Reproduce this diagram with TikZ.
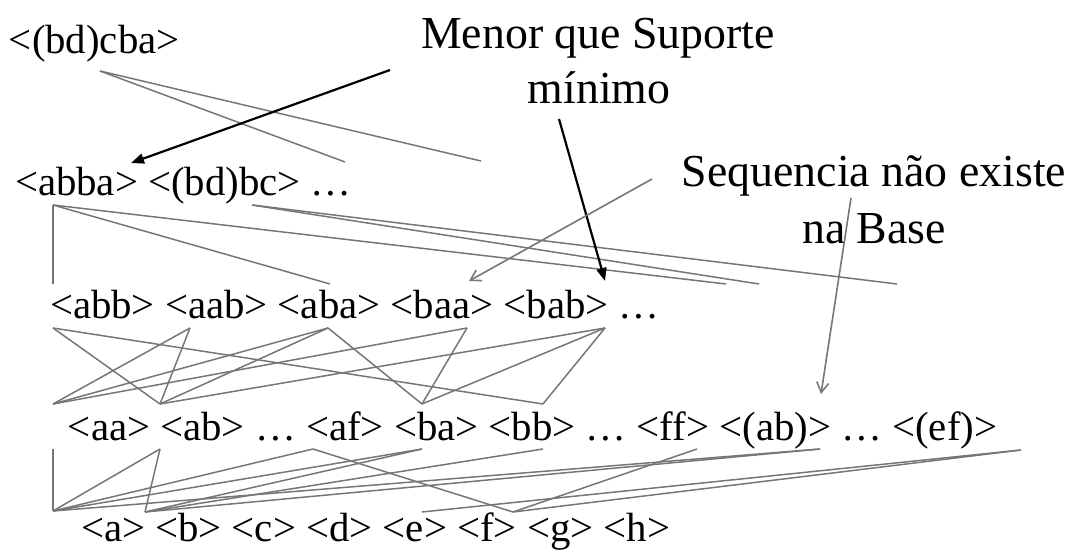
\documentclass[tikz,border=0pt]{standalone}
\usepackage{fontspec}
\setmainfont{Liberation Serif}
\usetikzlibrary{arrows.meta}
\definecolor{edgegray}{RGB}{118,118,118}
\begin{document}
\begin{tikzpicture}[x=0.5pt,y=-0.5pt,
  seq/.style={inner sep=0pt, outer sep=0pt, anchor=base west,
              font=\fontsize{20.4}{24}\selectfont},
  note/.style={inner sep=0pt, outer sep=0pt, anchor=base,
               font=\fontsize{22.9}{27}\selectfont},
  edge/.style={draw=edgegray, line width=0.75pt},
  callout/.style={draw=black, line width=1.1pt,
                  -{Triangle[length=6.5pt,width=5pt]}},
  pointer/.style={draw=edgegray, line width=0.8pt,
                  -{Straight Barb[length=5pt,width=6pt]}}]
\useasboundingbox (0,0) rectangle (1071,550);

% ---- sequences, one row per length ----
\node[seq] (bdcba) at (9,54) {<(bd)cba>};

\node[seq] (abba) at (15,196) {<abba>};
\node[seq] (bdbc) at ([xshift=5.1pt]abba.base east) {<(bd)bc>};
\node[seq] (dotsB) at ([xshift=5.1pt]bdbc.base east) {…};

\node[seq] (abb) at (50,319) {<abb>};
\node[seq] (aab) at ([xshift=5.1pt]abb.base east) {<aab>};
\node[seq] (aba) at ([xshift=5.1pt]aab.base east) {<aba>};
\node[seq] (baa) at ([xshift=5.1pt]aba.base east) {<baa>};
\node[seq] (bab) at ([xshift=5.1pt]baa.base east) {<bab>};
\node[seq] (dotsC) at ([xshift=5.1pt]bab.base east) {…};

\node[seq] (aa) at (68,441) {<aa>};
\node[seq] (ab) at ([xshift=5.1pt]aa.base east) {<ab>};
\node[seq] (dotsD1) at ([xshift=5.1pt]ab.base east) {…};
\node[seq] (af) at ([xshift=5.1pt]dotsD1.base east) {<af>};
\node[seq] (ba) at ([xshift=5.1pt]af.base east) {<ba>};
\node[seq] (bb) at ([xshift=5.1pt]ba.base east) {<bb>};
\node[seq] (dotsD2) at ([xshift=5.1pt]bb.base east) {…};
\node[seq] (ff) at ([xshift=5.1pt]dotsD2.base east) {<ff>};
\node[seq] (pab) at ([xshift=5.1pt]ff.base east) {<(ab)>};
\node[seq] (dotsD3) at ([xshift=5.1pt]pab.base east) {…};
\node[seq] (pef) at ([xshift=5.1pt]dotsD3.base east) {<(ef)>};

\node[seq] (a) at (81,541) {<a>};
\node[seq] (b) at ([xshift=5.1pt]a.base east) {<b>};
\node[seq] (c) at ([xshift=5.1pt]b.base east) {<c>};
\node[seq] (d) at ([xshift=5.1pt]c.base east) {<d>};
\node[seq] (e) at ([xshift=5.1pt]d.base east) {<e>};
\node[seq] (f) at ([xshift=5.1pt]e.base east) {<f>};
\node[seq] (g) at ([xshift=5.1pt]f.base east) {<g>};
\node[seq] (h) at ([xshift=5.1pt]g.base east) {<h>};

% ---- annotations ----
\node[note] (menorA) at (598,49) {Menor que Suporte};
\node[note] (menorB) at (599,104) {mínimo};
\node[note] (seqA) at (874,187) {Sequencia não existe};
\node[note] (seqB) at (874,244) {na Base};

% ---- line ends between the rows ----
\coordinate (bdcba-d) at (100,71);
\coordinate (r2-x1) at (345,162);
\coordinate (r2-x2) at (481,161);

\coordinate (abba-d) at (53,205);
\coordinate (bdbc-d) at (252,205);
\coordinate (abb-u) at (53,284);
\coordinate (aba-u) at (330,284);
\coordinate (r3-x1) at (726,284);
\coordinate (r3-x2) at (759,284);
\coordinate (r3-x3) at (897,284);

\coordinate (abb-d) at (53,328);
\coordinate (aab-d) at (190,328);
\coordinate (aba-d) at (328,328);
\coordinate (baa-d) at (467,328);
\coordinate (bab-d) at (605,328);
\coordinate (aa-u) at (53,404);
\coordinate (ab-u) at (160,404);
\coordinate (ba-u) at (422,404);
\coordinate (bb-u) at (543,404);

\coordinate (aa-d) at (53,449);
\coordinate (ab-d) at (160,449);
\coordinate (af-d) at (313,449);
\coordinate (ba-d) at (422,449);
\coordinate (bb-d) at (543,449);
\coordinate (ff-d) at (697,449);
\coordinate (pab-d) at (820,449);
\coordinate (pef-d) at (1021,450);
\coordinate (a-u) at (53,511);
\coordinate (b-u) at (145,512);
\coordinate (e-u) at (422,512);
\coordinate (f-u) at (513,512);

% ---- subsequence links ----
\draw[edge] (bdcba-d) -- (r2-x1);
\draw[edge] (bdcba-d) -- (r2-x2);

\draw[edge] (abba-d) -- (abb-u);
\draw[edge] (abba-d) -- (aba-u);
\draw[edge] (abba-d) -- (r3-x1);
\draw[edge] (bdbc-d) -- (r3-x2);
\draw[edge] (bdbc-d) -- (r3-x3);

\draw[edge] (abb-d) -- (ab-u);
\draw[edge] (abb-d) -- (bb-u);
\draw[edge] (aab-d) -- (aa-u);
\draw[edge] (aab-d) -- (ab-u);
\draw[edge] (aba-d) -- (aa-u);
\draw[edge] (aba-d) -- (ab-u);
\draw[edge] (aba-d) -- (ba-u);
\draw[edge] (baa-d) -- (aa-u);
\draw[edge] (baa-d) -- (ba-u);
\draw[edge] (bab-d) -- (ab-u);
\draw[edge] (bab-d) -- (ba-u);
\draw[edge] (bab-d) -- (bb-u);

\draw[edge] (aa-d) -- (a-u);
\draw[edge] (ab-d) -- (a-u);
\draw[edge] (ab-d) -- (b-u);
\draw[edge] (af-d) -- (a-u);
\draw[edge] (af-d) -- (f-u);
\draw[edge] (ba-d) -- (a-u);
\draw[edge] (ba-d) -- (b-u);
\draw[edge] (bb-d) -- (b-u);
\draw[edge] (ff-d) -- (f-u);
\draw[edge] (pab-d) -- (a-u);
\draw[edge] (pab-d) -- (b-u);
\draw[edge] (pef-d) -- (e-u);
\draw[edge] (pef-d) -- (f-u);

% ---- annotation arrows ----
\coordinate (menor-s) at (390,70);
\coordinate (menor-t) at (131,163);
\coordinate (minimo-s) at (559,119);
\coordinate (minimo-t) at (605,281);
\coordinate (seq-s) at (652,179);
\coordinate (seq-t) at (469,281);
\coordinate (base-s) at (851,198);
\coordinate (base-t) at (821,394);

\draw[callout] (menor-s) -- (menor-t);
\draw[callout] (minimo-s) -- (minimo-t);
\draw[pointer] (seq-s) -- (seq-t);
\draw[pointer] (base-s) -- (base-t);
\end{tikzpicture}
\end{document}
